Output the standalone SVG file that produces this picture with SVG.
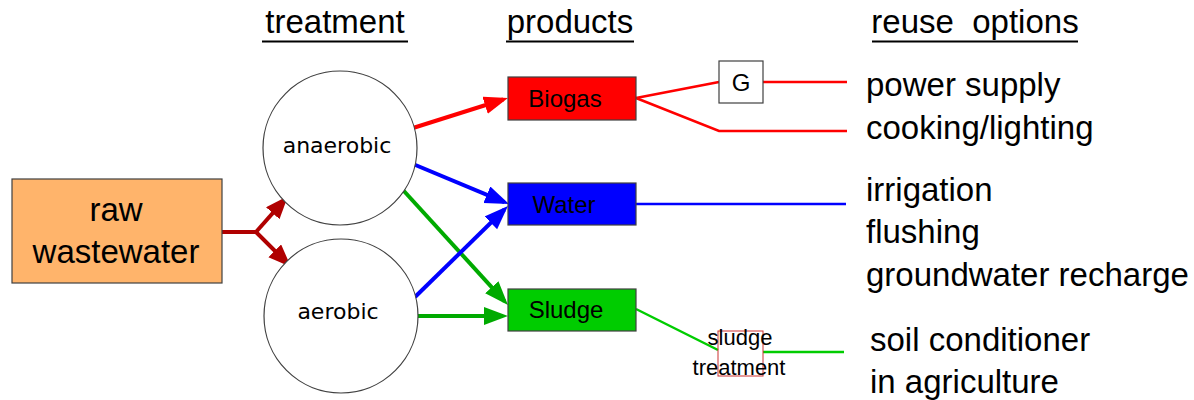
<svg xmlns="http://www.w3.org/2000/svg" width="1194" height="400" viewBox="0 0 1194 400">
<style>
text{font-family:"Liberation Sans",Arial,sans-serif;fill:#000}
.hdr{font-size:33px;text-anchor:middle}
.opt{font-size:33px}
.big{font-size:33px;text-anchor:middle}
.circ{font-size:22px;text-anchor:middle;font-family:"DejaVu Sans","Liberation Sans",sans-serif}
.prod{font-size:24px;text-anchor:middle}
.small{font-size:22px;text-anchor:middle}
.ul{stroke:#000;stroke-width:2}
.node{stroke:#404040;stroke-width:1.2}
.thick{stroke-width:4;fill:none;stroke-linecap:butt}
.thin{stroke-width:2.5;fill:none}
</style>
<defs>
<marker id="ahR" markerUnits="userSpaceOnUse" markerWidth="26" markerHeight="20" refX="19" refY="9" orient="auto"><path d="M0,0 L24,9 L0,18 Z" fill="#FF0000"/></marker>
<marker id="ahB" markerUnits="userSpaceOnUse" markerWidth="26" markerHeight="20" refX="19" refY="9" orient="auto"><path d="M0,0 L24,9 L0,18 Z" fill="#0000FF"/></marker>
<marker id="ahG" markerUnits="userSpaceOnUse" markerWidth="26" markerHeight="20" refX="19" refY="9" orient="auto"><path d="M0,0 L24,9 L0,18 Z" fill="#00AA00"/></marker>
<marker id="ahD" markerUnits="userSpaceOnUse" markerWidth="26" markerHeight="20" refX="18" refY="9" orient="auto"><path d="M0,0 L23,9 L0,18 Z" fill="#B00000"/></marker>
</defs>

<g id="headers">
<text class="hdr" x="335" y="33">treatment</text>
<line class="ul" x1="262" y1="41.5" x2="408" y2="41.5"/>
<text class="hdr" x="570" y="33">products</text>
<line class="ul" x1="506" y1="41.5" x2="634" y2="41.5"/>
<text class="hdr" x="975" y="33" xml:space="preserve">reuse  options</text>
<line class="ul" x1="872" y1="41.5" x2="1078" y2="41.5"/>
</g>

<g id="connectors">
<polyline class="thick" stroke="#B00000" points="222,232 256,232"/>
<line class="thick" stroke="#B00000" x1="256" y1="232" x2="284.7" y2="199.7" marker-end="url(#ahD)"/>
<line class="thick" stroke="#B00000" x1="256" y1="232" x2="287.5" y2="263.5" marker-end="url(#ahD)"/>
<line class="thick" stroke="#FF0000" x1="413" y1="128" x2="503.2" y2="99.5" marker-end="url(#ahR)"/>
<line class="thick" stroke="#0000FF" x1="413" y1="164" x2="504.4" y2="202.1" marker-end="url(#ahB)"/>
<line class="thick" stroke="#00AA00" x1="403" y1="190" x2="504.6" y2="301.3" marker-end="url(#ahG)"/>
<line class="thick" stroke="#0000FF" x1="415" y1="297" x2="504.4" y2="209.5" marker-end="url(#ahB)"/>
<line class="thick" stroke="#00AA00" x1="417" y1="316" x2="503" y2="316" marker-end="url(#ahG)"/>
<polyline class="thin" stroke="#FF0000" points="636,98 719,82"/>
<polyline class="thin" stroke="#FF0000" points="763,82 847,82"/>
<polyline class="thin" stroke="#FF0000" points="636,98 719,131 847,131"/>
<polyline class="thin" stroke="#0000FF" points="636,204 846,204"/>
<polyline class="thin" stroke="#00CC00" points="636,309 718,350"/>
<polyline class="thin" stroke="#00CC00" points="763,352 844,352"/>
</g>

<g id="raw-wastewater">
<rect class="node" x="12" y="179" width="210" height="104" fill="#FFB46B"/>
<text class="big" x="116" y="221">raw</text>
<text class="big" x="116" y="263">wastewater</text>
</g>

<g id="anaerobic">
<circle class="node" cx="340" cy="148" r="77" fill="#FFFFFF" stroke-width="1"/>
<text class="circ" x="337" y="153">anaerobic</text>
</g>

<g id="aerobic">
<circle class="node" cx="341" cy="316" r="77" fill="#FFFFFF" stroke-width="1"/>
<text class="circ" x="338" y="319">aerobic</text>
</g>

<g id="biogas">
<rect class="node" x="508" y="77" width="128" height="43" fill="#FF0000"/>
<text class="prod" x="565" y="107">Biogas</text>
</g>

<g id="water">
<rect class="node" x="508" y="183" width="128" height="42" fill="#0000FF"/>
<text class="prod" x="564" y="213">Water</text>
</g>

<g id="sludge">
<rect class="node" x="508" y="289" width="128" height="42" fill="#00CC00"/>
<text class="prod" x="566" y="318">Sludge</text>
</g>

<g id="generator">
<rect class="node" x="719" y="61" width="44" height="42" fill="#FFFFFF"/>
<text class="prod" x="741" y="91">G</text>
</g>

<g id="sludge-treatment">
<rect x="718" y="331" width="45" height="45" fill="none" stroke="#CC3333" stroke-width="1"/>
<text class="small" x="740" y="345">sludge</text>
<text class="small" x="739" y="375">treatment</text>
</g>

<g id="reuse-options">
<text class="opt" x="866" y="96">power supply</text>
<text class="opt" x="866" y="139">cooking/lighting</text>
<text class="opt" x="866" y="201">irrigation</text>
<text class="opt" x="866" y="243">flushing</text>
<text class="opt" x="866" y="286">groundwater recharge</text>
<text class="opt" x="870" y="351">soil conditioner</text>
<text class="opt" x="870" y="393">in agriculture</text>
</g>
</svg>
